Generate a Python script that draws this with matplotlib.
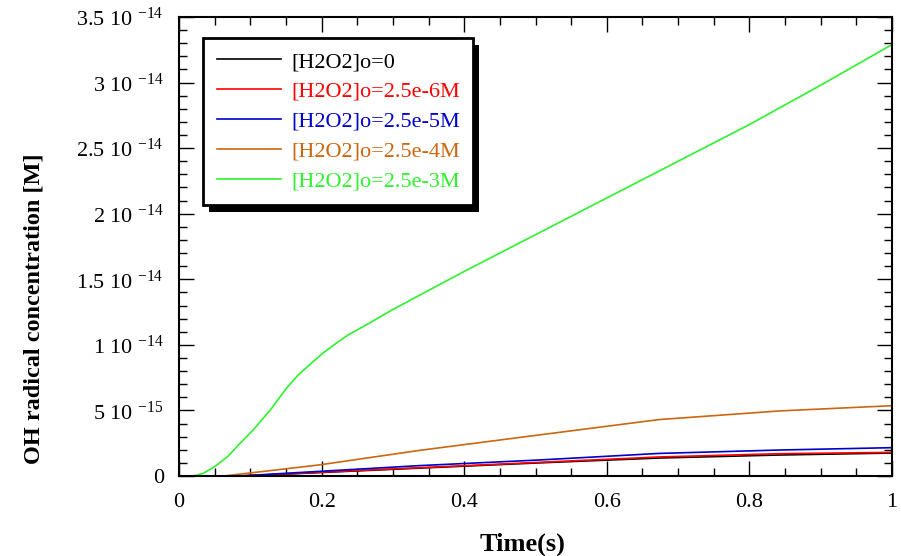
import matplotlib
matplotlib.use("Agg")
import matplotlib.pyplot as plt
from matplotlib.ticker import MultipleLocator, FixedLocator, FixedFormatter
from matplotlib.patches import Rectangle
from matplotlib.transforms import IdentityTransform

plt.rcParams['font.family'] = ['Liberation Serif', 'DejaVu Serif']
plt.rcParams['mathtext.fontset'] = 'custom'
plt.rcParams['mathtext.rm'] = 'Liberation Serif'
plt.rcParams['mathtext.it'] = 'Liberation Serif:italic'
plt.rcParams['mathtext.bf'] = 'Liberation Serif:bold'

# ---- data (y in units of 1e-14 M) ----
labels = ["[H2O2]o=0", "[H2O2]o=2.5e-6M", "[H2O2]o=2.5e-5M",
          "[H2O2]o=2.5e-4M", "[H2O2]o=2.5e-3M"]
colors = ["#000000", "#ff0000", "#0000cc", "#cc6611", "#2ef22e"]

t_black = [0, 0.09, 0.337, 0.505, 0.673, 0.842, 1.0]
y_black = [0, 0, 0.060, 0.100, 0.137, 0.160, 0.175]

t_red = [0, 0.084, 0.337, 0.505, 0.673, 0.842, 1.0]
y_red = [0, 0, 0.063, 0.104, 0.145, 0.170, 0.180]

t_blue = [0, 0.084, 0.337, 0.505, 0.673, 0.842, 1.0]
y_blue = [0, 0, 0.079, 0.122, 0.172, 0.198, 0.216]

t_orange = [0, 0.063, 0.196, 0.337, 0.505, 0.673, 0.842, 1.0]
y_orange = [0, 0, 0.084, 0.195, 0.313, 0.430, 0.496, 0.536]

t_green = [0, 0.02, 0.034, 0.05, 0.069, 0.086, 0.104, 0.128, 0.151, 0.167,
           0.186, 0.202, 0.221, 0.237, 0.268, 0.3, 0.4, 0.5, 0.6, 0.7,
           0.8, 0.9, 1.0]
y_green = [0, 0, 0.02, 0.071, 0.152, 0.252, 0.351, 0.503, 0.671, 0.770,
           0.862, 0.938, 1.014, 1.075, 1.169, 1.27, 1.56, 1.84, 2.12, 2.40,
           2.68, 2.98, 3.29]

yticks = [0, 0.5e-14, 1e-14, 1.5e-14, 2e-14, 2.5e-14, 3e-14, 3.5e-14]
yticklabels = ["0", "5 10 $^{-15}$", "1 10 $^{-14}$", "1.5 10 $^{-14}$",
               "2 10 $^{-14}$", "2.5 10 $^{-14}$", "3 10 $^{-14}$",
               "3.5 10 $^{-14}$"]
xticks = [0, 0.2, 0.4, 0.6, 0.8, 1]
xticklabels = ["0", "0.2", "0.4", "0.6", "0.8", "1"]

series = [(t_black, y_black), (t_red, y_red), (t_blue, y_blue),
          (t_orange, y_orange), (t_green, y_green)]

fig = plt.figure(figsize=(9.01, 5.56), dpi=100)
ax = fig.add_axes([0.1987, 0.1439, 0.7913, 0.8255])

for (t, y), c, lab in zip(series, colors, labels):
    ax.plot(t, [v * 1e-14 for v in y], color=c, lw=1.2, label=lab)

ax.set_xlim(0, 1)
ax.set_ylim(0, 3.5e-14)
ax.xaxis.set_major_locator(FixedLocator(xticks))
ax.xaxis.set_major_formatter(FixedFormatter(xticklabels))
ax.xaxis.set_minor_locator(MultipleLocator(0.05))
ax.yaxis.set_major_locator(FixedLocator(yticks))
ax.yaxis.set_major_formatter(FixedFormatter(yticklabels))
ax.yaxis.set_minor_locator(MultipleLocator(1e-15))

ax.tick_params(which='both', direction='in', top=True, right=True,
               labelsize=16, width=1.0)
ax.tick_params(which='major', length=11)
ax.tick_params(which='minor', length=5.5)
ax.tick_params(axis='x', which='major', pad=12)
ax.tick_params(axis='y', which='major', pad=11)
for s in ax.spines.values():
    s.set_linewidth(1.5)

ax.set_xlabel("Time(s)", fontsize=19, fontweight='bold')
ax.set_ylabel("OH radical concentration [M]", fontsize=17.5,
              fontweight='bold')
ax.xaxis.set_label_coords(0.482, -0.124)
ax.yaxis.set_label_coords(-0.188, 0.364)

leg = ax.legend(loc='upper left', bbox_to_anchor=(0.034, 0.954),
                borderaxespad=0, fontsize=16, handlelength=2.9,
                handletextpad=0.45, labelspacing=0.42, borderpad=0.6,
                fancybox=False, framealpha=1, edgecolor='black')
leg.get_frame().set_linewidth(2)
for txt, c in zip(leg.get_texts(), colors):
    txt.set_color(c)
leg.set_zorder(6)

fig.canvas.draw()
bb = leg.get_window_extent()
shadow = Rectangle((bb.x0 + 6, bb.y0 - 7), bb.width, bb.height,
                   transform=IdentityTransform(), facecolor='black',
                   edgecolor='none', zorder=5.5, clip_on=False)
ax.add_artist(shadow)

fig.savefig("out.png", dpi=100)
